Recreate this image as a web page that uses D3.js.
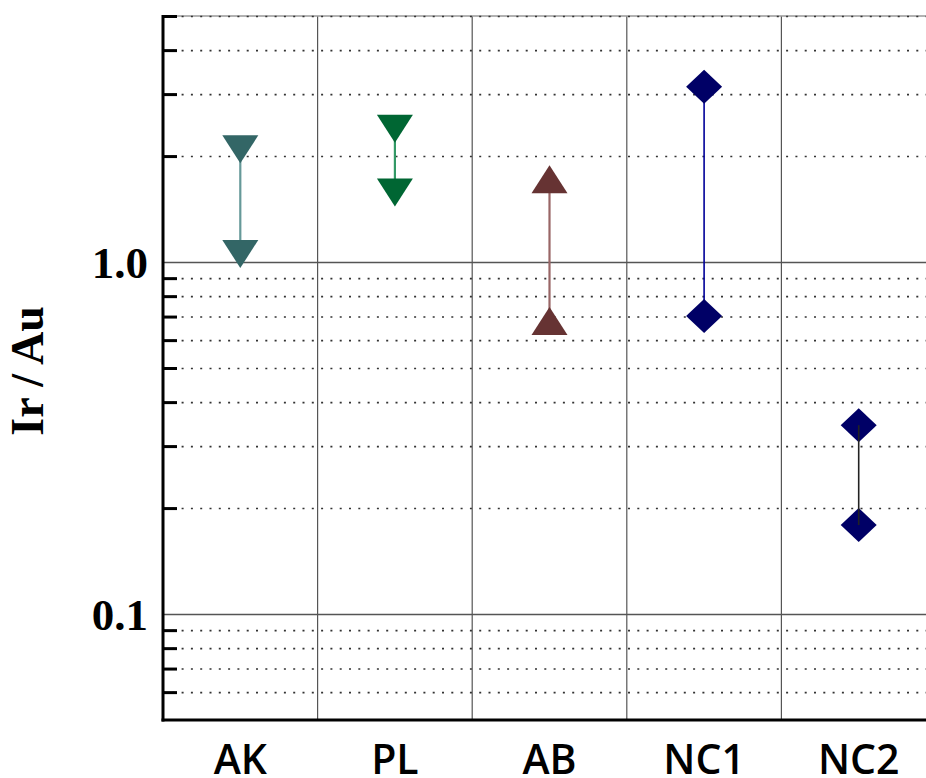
<!DOCTYPE html>
<html>
<head>
<meta charset="utf-8">
<script src="https://cdn.jsdelivr.net/npm/d3@7"></script>
<style>
  html, body { margin: 0; padding: 0; background: #fff; }
  svg { display: block; }
</style>
</head>
<body>
<svg id="chart" width="926" height="778"></svg>
<script>
// ---- data ----
const categories = ["AK", "PL", "AB", "NC1", "NC2"];
const highValues = [2.09, 2.39, 1.72, 3.15, 0.344];
const lowValues  = [1.054, 1.575, 0.68, 0.703, 0.179];
const markerShapes = ["triangle-down", "triangle-down", "triangle-up", "diamond", "diamond"];
const markerColors = ["#336666", "#006633", "#663333", "#000066", "#000066"];
const lineColors   = ["#669999", "#339966", "#996666", "#000099", "#222222"];
const majorTicks = [0.1, 1.0];
const majorTickLabels = ["0.1", "1.0"];
const minorTicks = [0.06, 0.07, 0.08, 0.09, 0.2, 0.3, 0.4, 0.5, 0.6, 0.7, 0.8, 0.9, 2, 3, 4, 5];
const yDomain = [0.05, 5];
const yTitle = "Ir / Au";

// ---- layout ----
const svg = d3.select("#chart");
const pLeft = 163, pTop = 16, pBottom = 720, pRight = 936;
const plotW = pRight - pLeft;

const x = d3.scaleBand().domain(categories).range([pLeft, pRight]).padding(0);
const y = d3.scaleLog().domain(yDomain).range([pBottom, pTop]);

// vertical category separators
const g = svg.append("g");
g.selectAll("line.vsep")
  .data(categories.slice(1))
  .join("line")
  .attr("x1", d => x(d)).attr("x2", d => x(d))
  .attr("y1", pTop).attr("y2", pBottom)
  .attr("stroke", "#555").attr("stroke-width", 1.2);

// top border (light)
g.append("line").attr("x1", pLeft).attr("x2", pRight).attr("y1", y(yDomain[1])).attr("y2", y(yDomain[1]))
  .attr("stroke", "#999").attr("stroke-width", 1.5);

// dotted minor grid
const minorGrid = svg.append("g").attr("transform", `translate(${pLeft},0)`)
  .call(d3.axisLeft(y).tickValues(minorTicks).tickSize(-plotW).tickFormat(""));
minorGrid.select(".domain").remove();
minorGrid.selectAll(".tick line")
  .attr("stroke", "#333").attr("stroke-width", 1.6).attr("stroke-dasharray", "2,7.3");

// solid major grid
const majorGrid = svg.append("g").attr("transform", `translate(${pLeft},0)`)
  .call(d3.axisLeft(y).tickValues(majorTicks).tickSize(-plotW).tickFormat(""));
majorGrid.select(".domain").remove();
majorGrid.selectAll(".tick line").attr("stroke", "#555").attr("stroke-width", 1.5);

// inward thick tick marks at minor values
const tickAxis = svg.append("g").attr("transform", `translate(${pLeft},0)`)
  .call(d3.axisLeft(y).tickValues(minorTicks).tickSize(-14).tickFormat(""));
tickAxis.select(".domain").remove();
tickAxis.selectAll(".tick line").attr("stroke", "#000").attr("stroke-width", 3);

// y tick labels
const labelAxis = svg.append("g").attr("transform", `translate(${pLeft},0)`)
  .call(d3.axisLeft(y).tickValues(majorTicks).tickSize(0).tickPadding(15)
    .tickFormat((d, i) => majorTickLabels[i]));
labelAxis.select(".domain").remove();
labelAxis.selectAll("text")
  .attr("font-family", "'Liberation Serif', 'Times New Roman', serif")
  .attr("font-weight", "bold").attr("font-size", 45).attr("fill", "#000")
  .attr("dy", "0.34em");

// axis lines
svg.append("line").attr("x1", pLeft).attr("x2", pLeft).attr("y1", pTop - 1).attr("y2", pBottom + 1.5)
  .attr("stroke", "#000").attr("stroke-width", 3);
svg.append("line").attr("x1", pLeft - 1.5).attr("x2", pRight).attr("y1", pBottom).attr("y2", pBottom)
  .attr("stroke", "#000").attr("stroke-width", 3);

// x labels
const xAxis = svg.append("g").attr("transform", `translate(0,${pBottom})`)
  .call(d3.axisBottom(x).tickSize(0).tickPadding(0));
xAxis.select(".domain").remove();
xAxis.selectAll("text")
  .attr("font-family", "'Open Sans', 'Noto Sans', sans-serif")
  .attr("font-weight", 600).attr("font-size", 41).attr("fill", "#000")
  .attr("dy", null).attr("y", 54);

// y title
svg.append("text")
  .attr("transform", `translate(43,371) rotate(-90)`)
  .attr("text-anchor", "middle")
  .attr("font-family", "'Liberation Serif', 'Times New Roman', serif")
  .attr("font-weight", "bold").attr("font-size", 46)
  .text(yTitle);

// ---- data marks ----
const shapePaths = {
  "triangle-down": "M-18,-14L18,-14L0,14Z",
  "triangle-up": "M0,-14L18,14L-18,14Z",
  "diamond": "M0,-17L18,0L0,17L-18,0Z"
};
const rows = categories.map((c, i) => ({
  cat: c, hi: highValues[i], lo: lowValues[i],
  shape: markerShapes[i], color: markerColors[i], line: lineColors[i]
}));
const cx = d => x(d.cat) + x.bandwidth() / 2;

const lineOnTop = d => d.cat === "NC2";
const drawLines = sel => sel.append("line")
  .attr("x1", cx).attr("x2", cx)
  .attr("y1", d => y(d.hi)).attr("y2", d => y(d.lo))
  .attr("stroke", d => d.line)
  .attr("stroke-width", d => (d.shape === "diamond" ? 1.6 : 2.2));

const marks = svg.append("g");
rows.forEach(d => {
  const grp = marks.append("g").datum(d);
  if (!lineOnTop(d)) drawLines(grp);
  [d.hi, d.lo].forEach(v => {
    grp.append("path")
      .attr("d", shapePaths[d.shape])
      .attr("transform", `translate(${cx(d)},${y(v)})`)
      .attr("fill", d.color);
  });
  if (lineOnTop(d)) drawLines(grp);
});
</script>
</body>
</html>
